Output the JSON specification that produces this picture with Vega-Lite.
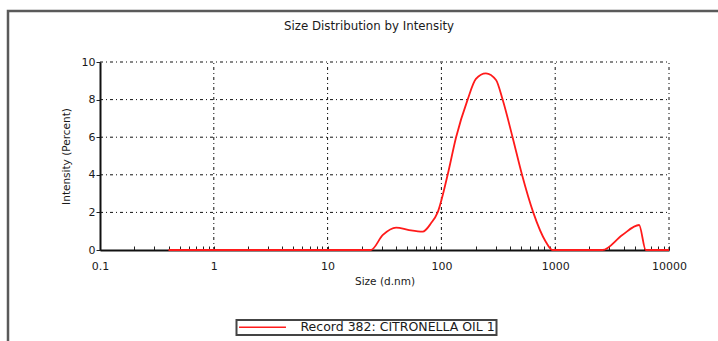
{
  "$schema": "https://vega.github.io/schema/vega-lite/v6.json",
  "autosize": "none",
  "padding": {"left": 8, "top": 11, "right": 0, "bottom": 0},
  "width": 722,
  "height": 335,
  "background": "white",
  "title": {
    "text": "Size Distribution by Intensity",
    "font": "DejaVu Sans",
    "fontSize": 11.8,
    "fontWeight": "normal",
    "color": "#1a1a1a",
    "anchor": "middle",
    "frame": "group",
    "offset": -22
  },
  "datasets": {
    "curve": [
      {"size": 0.4, "intensity": 0, "series": "Record 382: CITRONELLA OIL 1"},
      {"size": 1, "intensity": 0, "series": "Record 382: CITRONELLA OIL 1"},
      {"size": 10, "intensity": 0, "series": "Record 382: CITRONELLA OIL 1"},
      {"size": 24, "intensity": 0, "series": "Record 382: CITRONELLA OIL 1"},
      {"size": 30.6, "intensity": 0.8, "series": "Record 382: CITRONELLA OIL 1"},
      {"size": 40, "intensity": 1.19, "series": "Record 382: CITRONELLA OIL 1"},
      {"size": 52, "intensity": 1.06, "series": "Record 382: CITRONELLA OIL 1"},
      {"size": 68.6, "intensity": 0.98, "series": "Record 382: CITRONELLA OIL 1"},
      {"size": 81, "intensity": 1.42, "series": "Record 382: CITRONELLA OIL 1"},
      {"size": 92.7, "intensity": 2.0, "series": "Record 382: CITRONELLA OIL 1"},
      {"size": 113.5, "intensity": 4.0, "series": "Record 382: CITRONELLA OIL 1"},
      {"size": 134.6, "intensity": 6.0, "series": "Record 382: CITRONELLA OIL 1"},
      {"size": 170, "intensity": 8.0, "series": "Record 382: CITRONELLA OIL 1"},
      {"size": 201, "intensity": 9.1, "series": "Record 382: CITRONELLA OIL 1"},
      {"size": 246, "intensity": 9.4, "series": "Record 382: CITRONELLA OIL 1"},
      {"size": 302, "intensity": 9.04, "series": "Record 382: CITRONELLA OIL 1"},
      {"size": 345, "intensity": 8.0, "series": "Record 382: CITRONELLA OIL 1"},
      {"size": 422, "intensity": 6.0, "series": "Record 382: CITRONELLA OIL 1"},
      {"size": 511, "intensity": 4.0, "series": "Record 382: CITRONELLA OIL 1"},
      {"size": 641, "intensity": 2.0, "series": "Record 382: CITRONELLA OIL 1"},
      {"size": 826, "intensity": 0.44, "series": "Record 382: CITRONELLA OIL 1"},
      {"size": 946, "intensity": 0, "series": "Record 382: CITRONELLA OIL 1"},
      {"size": 2600, "intensity": 0, "series": "Record 382: CITRONELLA OIL 1"},
      {"size": 3890, "intensity": 0.8, "series": "Record 382: CITRONELLA OIL 1"},
      {"size": 5460, "intensity": 1.33, "series": "Record 382: CITRONELLA OIL 1"},
      {"size": 6250, "intensity": 0, "series": "Record 382: CITRONELLA OIL 1"},
      {"size": 10000, "intensity": 0, "series": "Record 382: CITRONELLA OIL 1"}
    ],
    "vgrid": [{"size": 1}, {"size": 10}, {"size": 100}, {"size": 1000}, {"size": 10000}],
    "hgrid": [{"intensity": 2}, {"intensity": 4}, {"intensity": 6}, {"intensity": 8}, {"intensity": 10}]
  },
  "layer": [
    {
      "data": {"name": "vgrid"},
      "mark": {"type": "rule", "color": "#111", "strokeWidth": 1, "strokeDash": [3, 3, 1, 3]},
      "encoding": {
        "x": {"field": "size", "type": "quantitative", "title": "Size (d.nm)"},
        "y": {"datum": 0, "type": "quantitative", "title": "Intensity (Percent)"},
        "y2": {"datum": 10}
      }
    },
    {
      "data": {"name": "hgrid"},
      "mark": {"type": "rule", "color": "#111", "strokeWidth": 1, "strokeDash": [3, 3, 1, 3]},
      "encoding": {
        "y": {"field": "intensity", "type": "quantitative", "title": "Intensity (Percent)"},
        "x": {"datum": 0.1, "type": "quantitative", "title": "Size (d.nm)"},
        "x2": {"datum": 10000}
      }
    },
    {
      "data": {"name": "curve"},
      "mark": {"type": "line", "strokeWidth": 1.8, "interpolate": "monotone"},
      "encoding": {
        "x": {
          "field": "size",
          "type": "quantitative",
          "title": "Size (d.nm)",
          "scale": {"type": "log", "domain": [0.1, 10000], "range": [92, 661], "nice": false},
          "axis": {
            "offset": -96,
            "values": [0.1, 0.2, 0.3, 0.4, 0.5, 0.6, 0.7, 0.8, 0.9, 1, 2, 3, 4, 5, 6, 7, 8, 9, 10, 20, 30, 40, 50, 60, 70, 80, 90, 100, 200, 300, 400, 500, 600, 700, 800, 900, 1000, 2000, 3000, 4000, 5000, 6000, 7000, 8000, 9000, 10000],
            "labelExpr": "indexof([0.1,1,10,100,1000,10000], datum.value) >= 0 ? format(datum.value, '~g') : ''",
            "labelOverlap": false,
            "labelFlush": false,
            "labelPadding": 14,
            "tickSize": -4,
            "tickColor": "#222",
            "grid": false,
            "titlePadding": 5
          }
        },
        "y": {
          "field": "intensity",
          "type": "quantitative",
          "title": "Intensity (Percent)",
          "scale": {"domain": [0, 10], "range": [239, 51], "nice": false, "zero": false},
          "axis": {
            "offset": -92,
            "values": [0, 1, 2, 3, 4, 5, 6, 7, 8, 9, 10],
            "labelExpr": "datum.value % 2 === 0 ? format(datum.value, 'd') : ''",
            "labelOverlap": false,
            "labelFlush": false,
            "labelPadding": 1,
            "tickSize": 4,
            "tickColor": "#222",
            "grid": false,
            "titlePadding": 10
          }
        },
        "color": {
          "field": "series",
          "type": "nominal",
          "scale": {"range": ["#ff1a1a"]},
          "legend": {
            "title": null,
            "orient": "none",
            "legendX": 228.5,
            "legendY": 309,
            "symbolType": "M-1,0H9",
            "symbolSize": 88,
            "symbolStrokeWidth": 1.5,
            "labelFont": "DejaVu Sans",
            "labelFontSize": 12.5,
            "labelColor": "#1a1a1a",
            "labelOffset": 50.5,
            "labelLimit": 400,
            "padding": 1,
            "strokeColor": "#444",
            "fillColor": "white",
            "encode": {"legend": {"update": {"strokeWidth": {"value": 2}}}}
          }
        }
      }
    }
  ],
  "config": {
    "view": {"stroke": "#5a5a5a", "strokeWidth": 2.5, "fill": "white"},
    "axis": {
      "labelFont": "DejaVu Sans",
      "labelFontSize": 11,
      "labelColor": "#1a1a1a",
      "titleFont": "DejaVu Sans",
      "titleFontSize": 10.5,
      "titleFontWeight": "normal",
      "titleColor": "#1a1a1a",
      "domainColor": "#111",
      "domainWidth": 2
    }
  }
}
